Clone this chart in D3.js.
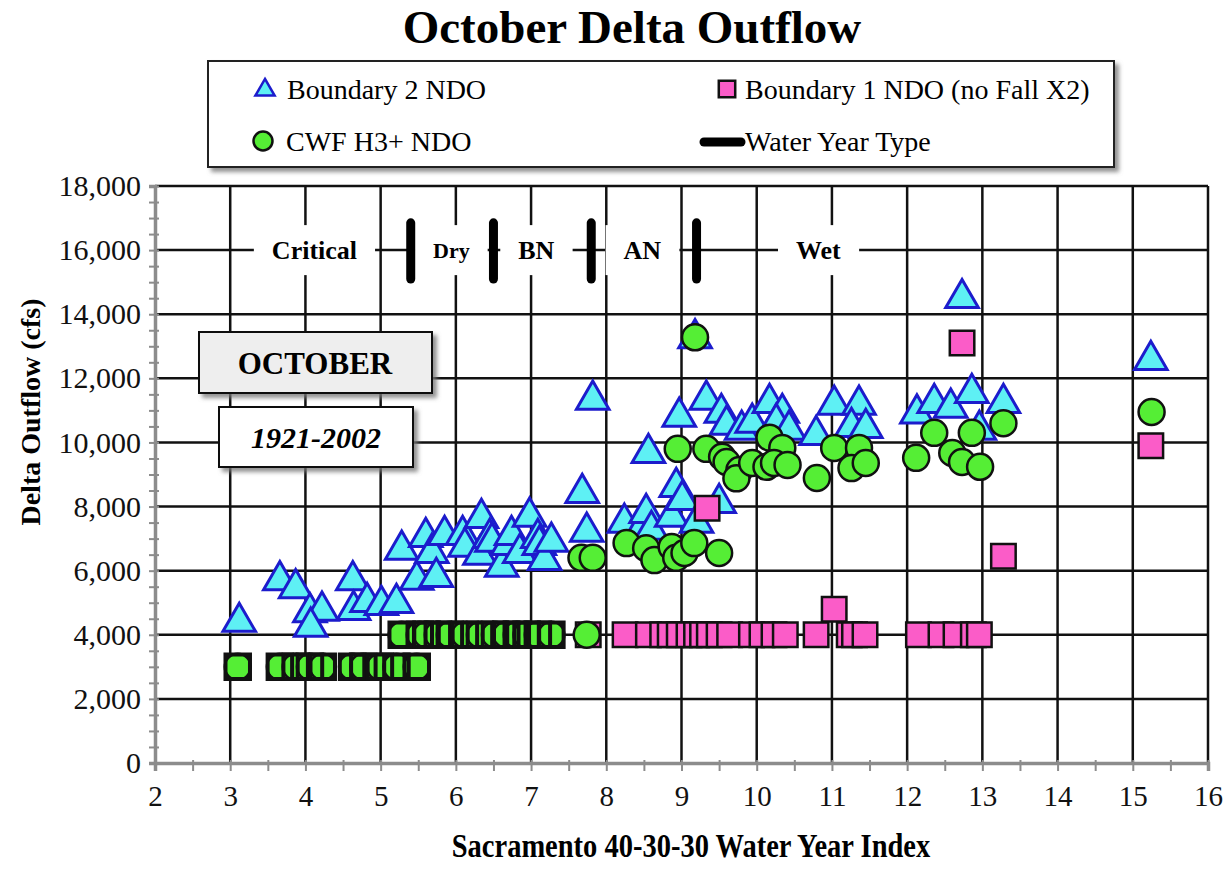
<!DOCTYPE html>
<html>
<head>
<meta charset="utf-8">
<script src="https://cdn.jsdelivr.net/npm/d3@7"></script>
<style>
  body { margin: 0; background: #fff; }
  svg { font-family: "Liberation Serif", "Times New Roman", serif; }
</style>
</head>
<body>
<div id="chart"></div>
<script>
// Sacramento 40-30-30 index vs October Delta outflow (cfs)
const boundary2 = [
  [3.12, 4400], [3.66, 5700], [3.87, 5450], [4.06, 4700], [4.22, 4750], [4.07, 4250],
  [4.63, 5700], [4.64, 4770], [4.82, 5020], [5.01, 4930], [5.21, 4990],
  [5.28, 6650], [5.48, 5710], [5.60, 7050], [5.68, 6550], [5.74, 5800], [5.85, 7110],
  [6.09, 7110], [6.12, 6740], [6.34, 7640], [6.32, 6490], [6.45, 7020], [6.48, 6900],
  [6.61, 6120], [6.69, 6800], [6.74, 7110], [6.85, 6550], [6.98, 7680], [7.09, 7020],
  [7.11, 6800], [7.18, 6330], [7.27, 6900],
  [7.68, 8420], [7.74, 7210], [7.82, 11330],
  [8.24, 7490], [8.47, 7330], [8.53, 7800], [8.56, 9670], [8.60, 7270], [8.87, 7680],
  [8.93, 8610], [9.01, 8200], [8.97, 10800], [9.18, 13250], [9.20, 7490], [9.33, 11330],
  [9.50, 8110], [9.53, 10920], [9.60, 10550], [9.80, 10390], [9.94, 10610], [10.17, 11230],
  [10.34, 10920], [10.26, 10610], [10.43, 10390], [10.79, 10230], [11.03, 11170],
  [11.36, 11170], [11.26, 10480], [11.45, 10450], [12.13, 10900], [12.36, 11230],
  [12.58, 11080], [12.73, 14500], [12.86, 11540], [12.96, 10390], [13.28, 11230],
  [15.24, 12570]
];

const boundary1 = [
  [3.10, 3000], [3.66, 3000], [3.87, 3000], [3.95, 3000], [4.06, 3000], [4.23, 3000],
  [4.62, 3000], [4.77, 3000], [4.88, 3000], [4.99, 3000], [5.10, 3000], [5.21, 3000],
  [5.33, 3000], [5.48, 3000],
  [5.28, 4000], [5.52, 4000], [5.61, 4000], [5.76, 4000], [5.92, 4000], [6.12, 4000],
  [6.32, 4000], [6.52, 4000], [6.67, 4000], [6.81, 4000], [6.94, 4000], [7.09, 4000],
  [7.27, 4000], [7.76, 4000],
  [8.25, 4000], [8.56, 4000], [8.75, 4000], [8.85, 4000], [8.97, 4000], [9.10, 4000],
  [9.20, 4000], [9.28, 4000], [9.37, 4000], [9.50, 4000], [9.64, 4000], [9.93, 4000],
  [10.07, 4000], [10.23, 4000], [10.38, 4000], [10.79, 4000], [11.23, 4000], [11.30, 4000],
  [11.44, 4000], [12.15, 4000], [12.45, 4000], [12.65, 4000], [12.88, 4000], [12.96, 4000],
  [9.34, 7950], [11.03, 4800], [12.73, 13100], [13.28, 6450], [15.24, 9900]
];

const cwfH3 = [
  [3.10, 3000], [3.66, 3000], [3.87, 3000], [4.06, 3000], [4.23, 3000],
  [4.62, 3000], [4.77, 3000], [4.99, 3000], [5.21, 3000], [5.48, 3000],
  [5.28, 4000], [5.52, 4000], [5.61, 4000], [5.76, 4000], [5.92, 4000], [6.12, 4000],
  [6.32, 4000], [6.52, 4000], [6.67, 4000], [6.81, 4000], [6.94, 4000], [7.09, 4000],
  [7.27, 4000], [7.74, 4000],
  [7.67, 6400], [7.82, 6400], [8.27, 6860], [8.53, 6700], [8.64, 6330], [8.87, 6740],
  [8.93, 6400], [9.04, 6550], [9.17, 6860], [9.50, 6550], [9.18, 13280],
  [8.95, 9800], [9.33, 9800], [9.54, 9550], [9.60, 9390], [9.77, 9140], [9.73, 8880],
  [9.94, 9360], [10.13, 9240], [10.17, 10150], [10.34, 9830], [10.23, 9360], [10.41, 9300],
  [10.80, 8890], [11.03, 9830], [11.36, 9830], [11.26, 9200], [11.45, 9360], [12.12, 9520],
  [12.36, 10300], [12.60, 9670], [12.73, 9390], [12.86, 10300], [12.97, 9240],
  [13.28, 10600], [15.25, 10950]
];

const yearTypes = ["Critical", "Dry", "BN", "AN", "Wet"];
const yearTypeCenters = [4.12, 5.94, 7.07, 8.48, 10.82];
const yearTypeBreaks = [5.4, 6.5, 7.8, 9.2];

const xTicks = d3.range(2, 17, 1);
const yTicks = d3.range(0, 18001, 2000);

const width = 1231, height = 870;
const x = d3.scaleLinear().domain([2, 16]).range([155, 1208]);
const y = d3.scaleLinear().domain([0, 18000]).range([763, 186]);

const svg = d3.select("#chart").append("svg")
  .attr("width", width).attr("height", height);

const defs = svg.append("defs");
const shadow = defs.append("filter").attr("id", "shadow")
  .attr("x", "-5%").attr("y", "-10%").attr("width", "115%").attr("height", "130%");
shadow.append("feDropShadow").attr("dx", 4).attr("dy", 4)
  .attr("stdDeviation", 2).attr("flood-color", "#777").attr("flood-opacity", 0.8);

// title
svg.append("text").attr("x", 632).attr("y", 43).attr("text-anchor", "middle")
  .attr("font-size", 47).attr("font-weight", "bold").text("October Delta Outflow");

// gridlines
const grid = svg.append("g");
grid.selectAll(".hg").data(yTicks.filter(d => d > 0)).join("line")
  .attr("x1", x(2)).attr("x2", x(16))
  .attr("y1", d => y(d)).attr("y2", d => y(d))
  .attr("stroke", "#111").attr("stroke-width", 2.5);
grid.selectAll(".vg").data(xTicks.filter(d => d > 2)).join("line")
  .attr("x1", d => x(d)).attr("x2", d => x(d))
  .attr("y1", y(0)).attr("y2", y(18000))
  .attr("stroke", "#111").attr("stroke-width", 2.5);

// axes
const axisColor = "#8c8c8c";
const yMinor = svg.append("g").attr("transform", `translate(${x(2)},0)`)
  .call(d3.axisLeft(y).tickValues(d3.range(0, 18001, 500)).tickFormat("").tickSize(6));
yMinor.selectAll(".tick line").attr("x1", 4).attr("stroke", axisColor).attr("stroke-width", 2);
yMinor.select(".domain").attr("stroke", axisColor).attr("stroke-width", 3.5);

const yAxis = svg.append("g").attr("transform", `translate(${x(2)},0)`)
  .call(d3.axisLeft(y).tickValues(yTicks).tickFormat(d3.format(",")).tickSize(0).tickPadding(14));
yAxis.select(".domain").remove();
yAxis.selectAll("text").attr("font-size", 30).attr("font-family", "Liberation Serif").attr("fill", "#111");

const xMinor = svg.append("g").attr("transform", `translate(0,${y(0)})`)
  .call(d3.axisBottom(x).tickValues(d3.range(2, 16.01, 0.5)).tickFormat("").tickSize(8));
xMinor.selectAll(".tick line").attr("y1", -3).attr("stroke", axisColor).attr("stroke-width", 2);
xMinor.select(".domain").attr("stroke", axisColor).attr("stroke-width", 3.5);

const xAxis = svg.append("g").attr("transform", `translate(0,${y(0)})`)
  .call(d3.axisBottom(x).tickValues(xTicks).tickFormat(d3.format("d")).tickSize(0).tickPadding(22));
xAxis.select(".domain").remove();
xAxis.selectAll("text").attr("font-size", 29).attr("font-family", "Liberation Serif").attr("fill", "#111");

// axis titles
svg.append("text").attr("transform", "translate(691,857) scale(1,1.15)").attr("text-anchor", "middle")
  .attr("font-size", 28.5).attr("font-weight", "bold").text("Sacramento 40-30-30 Water Year Index");
svg.append("text").attr("transform", "translate(40,412) rotate(-90)").attr("text-anchor", "middle")
  .attr("font-size", 28).attr("font-weight", "bold").text("Delta Outflow (cfs)");

// water year type labels with white boxes
const wyt = svg.append("g");
yearTypes.forEach((name, i) => {
  const t = wyt.append("text").attr("x", x(yearTypeCenters[i])).attr("y", y(16000))
    .attr("dy", "0.35em").attr("text-anchor", "middle")
    .attr("font-size", name === "Dry" ? 22 : 26).attr("font-weight", "bold").text(name);
  const b = t.node().getBBox();
  wyt.insert("rect", "text").attr("x", b.x - 18).attr("y", y(16000) - 25)
    .attr("width", b.width + 36).attr("height", 50).attr("fill", "#fff");
});
wyt.selectAll(".brk").data(yearTypeBreaks).join("line")
  .attr("x1", d => x(d)).attr("x2", d => x(d))
  .attr("y1", y(16850)).attr("y2", y(15100))
  .attr("stroke", "#000").attr("stroke-width", 9).attr("stroke-linecap", "round");

// OCTOBER and period boxes
svg.append("rect").attr("x", 199).attr("y", 332).attr("width", 233).attr("height", 61)
  .attr("fill", "#eeeeee").attr("stroke", "#111").attr("stroke-width", 2).attr("filter", "url(#shadow)");
svg.append("text").attr("x", 315).attr("y", 374).attr("text-anchor", "middle")
  .attr("font-size", 31).attr("font-weight", "bold").text("OCTOBER");
svg.append("rect").attr("x", 219).attr("y", 407).attr("width", 194).attr("height", 60)
  .attr("fill", "#fff").attr("stroke", "#111").attr("stroke-width", 2).attr("filter", "url(#shadow)");
svg.append("text").attr("x", 316).attr("y", 448).attr("text-anchor", "middle")
  .attr("font-size", 30).attr("font-style", "italic").attr("font-weight", "bold").text("1921-2002");

// markers
const triangle = d3.symbol().type(d3.symbolTriangle).size(460);
const square = d3.symbol().type(d3.symbolSquare).size(600);
const triColor = "#5ef0f4", triStroke = "#1c1ccc";
const sqColor = "#fb5cc8", cirColor = "#55ee35";

svg.append("g").selectAll("path").data(boundary2).join("path")
  .attr("d", triangle)
  .attr("transform", d => `translate(${x(d[0])},${y(d[1])})`)
  .attr("fill", triColor).attr("stroke", triStroke).attr("stroke-width", 3);

// Boundary 1 squares that sit exactly on a CWF point render as a dark band in the source
const covered = d => cwfH3.some(c => Math.abs(c[0] - d[0]) < 0.005 && c[1] === d[1]);
const b1Open = boundary1.filter(d => !covered(d));
const b1Covered = boundary1.filter(covered);

svg.append("g").selectAll("path").data(b1Open).join("path")
  .attr("d", square)
  .attr("transform", d => `translate(${x(d[0])},${y(d[1])})`)
  .attr("fill", sqColor).attr("stroke", "#111").attr("stroke-width", 2.5);
svg.append("g").selectAll("path").data(b1Covered).join("path")
  .attr("d", square)
  .attr("transform", d => `translate(${x(d[0])},${y(d[1])})`)
  .attr("fill", "#111").attr("stroke", "#111").attr("stroke-width", 2.5);

svg.append("g").selectAll("circle").data(cwfH3).join("circle")
  .attr("cx", d => x(d[0])).attr("cy", d => y(d[1])).attr("r", 13)
  .attr("fill", cirColor).attr("stroke", "#111").attr("stroke-width", 2.5);

svg.append("g").selectAll("path").data(b1Covered).join("path")
  .attr("d", square)
  .attr("transform", d => `translate(${x(d[0])},${y(d[1])})`)
  .attr("fill", "none").attr("stroke", "#111").attr("stroke-width", 4);

// legend
const lg = svg.append("g");
lg.append("rect").attr("x", 208).attr("y", 61).attr("width", 906).attr("height", 106)
  .attr("fill", "#fff").attr("stroke", "#222").attr("stroke-width", 2).attr("filter", "url(#shadow)");
lg.append("path").attr("d", d3.symbol().type(d3.symbolTriangle).size(160))
  .attr("transform", "translate(265,90)").attr("fill", triColor).attr("stroke", triStroke).attr("stroke-width", 2.5);
lg.append("text").attr("x", 287).attr("y", 99).attr("font-size", 28).text("Boundary 2 NDO");
lg.append("path").attr("d", d3.symbol().type(d3.symbolSquare).size(270))
  .attr("transform", "translate(727,89)").attr("fill", sqColor).attr("stroke", "#111").attr("stroke-width", 2.5);
lg.append("text").attr("x", 745).attr("y", 99).attr("font-size", 28).text("Boundary 1 NDO (no Fall X2)");
lg.append("circle").attr("cx", 263).attr("cy", 141).attr("r", 9.5)
  .attr("fill", cirColor).attr("stroke", "#111").attr("stroke-width", 2.5);
lg.append("text").attr("x", 286).attr("y", 151).attr("font-size", 28).text("CWF H3+ NDO");
lg.append("line").attr("x1", 704).attr("x2", 741).attr("y1", 142).attr("y2", 142)
  .attr("stroke", "#000").attr("stroke-width", 9).attr("stroke-linecap", "round");
lg.append("text").attr("x", 745).attr("y", 151).attr("font-size", 28).text("Water Year Type");
</script>
</body>
</html>
